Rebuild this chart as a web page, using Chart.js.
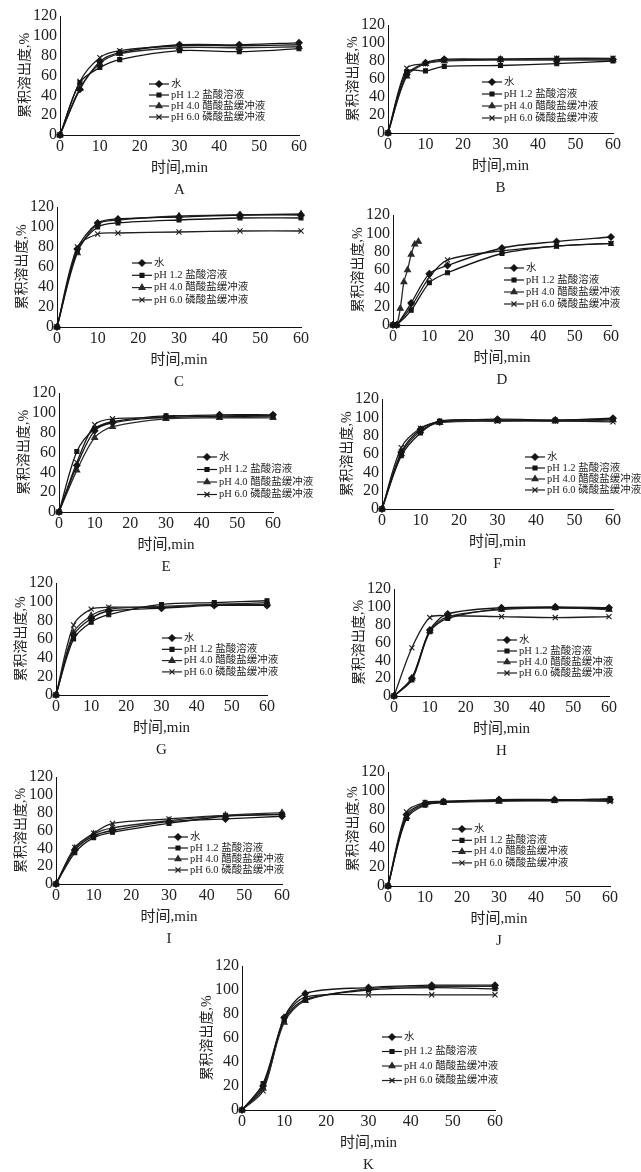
<!DOCTYPE html>
<html>
<head>
<meta charset="utf-8">
<script src="https://cdn.jsdelivr.net/npm/chart.js@4.4.1/dist/chart.umd.min.js"></script>
<style>
  body { margin: 0; background: #fff; width: 641px; height: 1172px; position: relative; overflow: hidden; }
  canvas { position: absolute; }
</style>
</head>
<body>
<script>
// time points (min)
const times = [0, 5, 10, 15, 30, 45, 60];
const timesD = [0, 1, 5, 10, 15, 30, 45, 60];
const timesD40 = [0, 1, 2, 3, 4, 5, 6, 7];
const xTickValues = [0, 10, 20, 30, 40, 50, 60];
const yTickValues = [0, 20, 40, 60, 80, 100, 120];
const seriesLabels = ["水", "pH 1.2 盐酸溶液", "pH 4.0 醋酸盐缓冲液", "pH 6.0 磷酸盐缓冲液"];

// rows: 水, pH 1.2, pH 4.0, pH 6.0  (累积溶出度 %)
const valuesA = [[0, 46, 74, 83, 91, 91, 93], [0, 53, 68, 76, 85, 84, 87], [0, 47, 72, 82, 88, 88, 89], [0, 54, 78, 85, 90, 90, 91]];
const valuesB = [[0, 65, 78, 82, 82, 82, 82], [0, 68, 69, 74, 75, 77, 80], [0, 63, 77, 80, 81, 81, 81], [0, 72, 77, 81, 82, 83, 83]];
const valuesC = [[0, 78, 104, 108, 110, 112, 112], [0, 76, 100, 104, 107, 109, 109], [0, 74, 103, 107, 111, 112, 113], [0, 80, 93, 94, 95, 96, 96]];
const valuesD = [[0, 0, 24, 56, 65, 84, 91, 96], [0, 0, 16, 46, 57, 78, 86, 89], [0, 0, 18, 47, 60, 77, 88, 91], [0, 0, 20, 52, 71, 81, 86, 89]];
const valuesE = [[0, 47, 82, 90, 96, 98, 98], [0, 61, 84, 91, 97, 96, 97], [0, 42, 75, 86, 94, 95, 95], [0, 50, 88, 94, 95, 97, 97]];
const valuesF = [[0, 62, 87, 95, 98, 97, 99], [0, 58, 83, 96, 97, 97, 98], [0, 60, 85, 94, 96, 96, 97], [0, 67, 88, 95, 96, 96, 95]];
const valuesG = [[0, 64, 82, 90, 93, 96, 96], [0, 60, 78, 86, 97, 99, 101], [0, 67, 85, 92, 95, 97, 99], [0, 75, 92, 94, 94, 97, 97]];
const valuesH = [[0, 20, 74, 92, 99, 100, 99], [0, 18, 72, 87, 98, 99, 98], [0, 20, 73, 89, 97, 99, 97], [0, 54, 88, 90, 89, 88, 89]];
const valuesI = [[0, 38, 54, 60, 70, 73, 76], [0, 35, 52, 58, 68, 76, 78], [0, 40, 56, 63, 71, 77, 80], [0, 41, 57, 68, 73, 77, 78]];
const valuesJ = [[0, 75, 87, 89, 91, 91, 91], [0, 71, 85, 88, 90, 90, 92], [0, 73, 86, 88, 89, 90, 90], [0, 78, 88, 89, 90, 90, 89]];
const valuesK = [[0, 20, 77, 97, 102, 104, 104], [0, 22, 75, 92, 100, 102, 101], [0, 18, 73, 91, 101, 103, 103], [0, 16, 76, 94, 96, 96, 96]];

// layout: plot box [left, top(120), right(60), bottom(0)] and legend offset [x, y, row step]
const panels = [
    { letter: "A", values: valuesA, box: [60, 16, 299, 135], legend: [89, 68, 11] },
    { letter: "B", values: valuesB, box: [388, 25, 613, 133], legend: [94, 57, 12] },
    { letter: "C", values: valuesC, box: [57, 207, 301, 327], legend: [75, 56, 12.3] },
    { letter: "D", values: valuesD, box: [393, 215, 611, 325], legend: [111, 53, 12], times: [timesD, timesD, timesD40, timesD] },
    { letter: "E", values: valuesE, box: [59, 393, 273, 512], legend: [138, 64, 12.5] },
    { letter: "F", values: valuesF, box: [382, 399, 613, 509], legend: [143, 58, 11] },
    { letter: "G", values: valuesG, box: [56, 583, 267, 695], legend: [106, 55, 11.3] },
    { letter: "H", values: valuesH, box: [394, 589, 609, 696], legend: [103, 51, 11] },
    { letter: "I", values: valuesI, box: [56, 777, 282, 884], legend: [112, 60, 11] },
    { letter: "J", values: valuesJ, box: [388, 772, 610, 886], legend: [64, 57, 11.3] },
    { letter: "K", values: valuesK, box: [242, 966, 495, 1110], legend: [140, 71, 14.5] }
];

const pointStyles = ["rectRot", "rect", "triangle", "crossRot"];
const pointSizes = [3.2, 2.8, 3.4, 3.6];
const lineColors = ["#151515", "#151515", "#2a2a2a", "#1e1e1e"];

const AX_W = 52, AX_H = 66, PAD_T = 14, PAD_R = 60;
const textColor = "#222";
const serif = "'Liberation Serif', 'Noto Sans CJK SC', serif";

// legend drawn inside the plot area
const insideLegend = {
    id: "insideLegend",
    afterDatasetsDraw(chart, args, opts) {
        const { ctx, chartArea } = chart;
        ctx.save();
        chart.data.datasets.forEach((ds, i) => {
            const x = chartArea.left + opts.x;
            const y = chartArea.top + opts.y + i * opts.dy;
            ctx.strokeStyle = ds.borderColor;
            ctx.lineWidth = 1.2;
            ctx.beginPath();
            ctx.moveTo(x, y);
            ctx.lineTo(x + 20, y);
            ctx.stroke();
            ctx.fillStyle = ds.pointBackgroundColor;
            Chart.helpers.drawPoint(ctx, { pointStyle: ds.pointStyle, radius: ds.pointRadius, rotation: 0, borderWidth: 1.1 }, x + 10, y);
            ctx.fillStyle = textColor;
            ctx.font = "10.5px " + serif;
            ctx.textBaseline = "middle";
            ctx.textAlign = "left";
            ctx.fillText(ds.label, x + 22, y);
        });
        ctx.restore();
    }
};

panels.forEach(p => {
    const [L, T, R, B] = p.box;
    const canvas = document.createElement("canvas");
    canvas.width = AX_W + (R - L) + PAD_R;
    canvas.height = PAD_T + (B - T) + AX_H;
    canvas.style.left = (L - AX_W) + "px";
    canvas.style.top = (T - PAD_T) + "px";
    document.body.appendChild(canvas);

    const datasets = p.values.map((vals, i) => {
        const t = p.times ? p.times[i] : times;
        return {
            label: seriesLabels[i],
            data: vals.map((v, k) => ({ x: t[k], y: v })),
            borderColor: lineColors[i],
            backgroundColor: lineColors[i],
            pointBackgroundColor: lineColors[i],
            pointBorderColor: lineColors[i],
            borderWidth: 1.3,
            pointStyle: pointStyles[i],
            pointRadius: pointSizes[i],
            pointBorderWidth: 1.1,
            tension: 0.3,
            clip: false
        };
    });

    new Chart(canvas, {
        type: "line",
        data: { datasets },
        plugins: [insideLegend],
        options: {
            responsive: false,
            animation: false,
            layout: { padding: { left: 0, top: PAD_T, right: PAD_R, bottom: 0 } },
            plugins: {
                legend: { display: false },
                tooltip: { enabled: false },
                insideLegend: { x: p.legend[0], y: p.legend[1], dy: p.legend[2] }
            },
            scales: {
                x: {
                    type: "linear",
                    min: 0,
                    max: 60,
                    afterBuildTicks: s => { s.ticks = xTickValues.map(v => ({ value: v })); },
                    afterFit: s => { s.height = AX_H; },
                    grid: { display: false, drawTicks: false },
                    border: { display: true, color: "#111", width: 1 },
                    ticks: { color: textColor, padding: 2, maxRotation: 0, autoSkip: false, font: { family: serif, size: 16 } },
                    title: {
                        display: true,
                        text: ["时间,min", p.letter],
                        color: textColor,
                        padding: 0,
                        font: { family: serif, size: 15, lineHeight: 22 / 15 }
                    }
                },
                y: {
                    min: 0,
                    max: 120,
                    afterBuildTicks: s => { s.ticks = yTickValues.map(v => ({ value: v })); },
                    afterFit: s => { s.width = AX_W; },
                    grid: { display: false, drawTicks: false },
                    border: { display: true, color: "#111", width: 1 },
                    ticks: { color: textColor, padding: 3, autoSkip: false, font: { family: serif, size: 16, lineHeight: 1 } },
                    title: {
                        display: true,
                        text: "累积溶出度,%",
                        color: textColor,
                        padding: { top: 8.6, bottom: 0 },
                        font: { family: serif, size: 14, lineHeight: 1.2 }
                    }
                }
            }
        }
    });
});
</script>
</body>
</html>
